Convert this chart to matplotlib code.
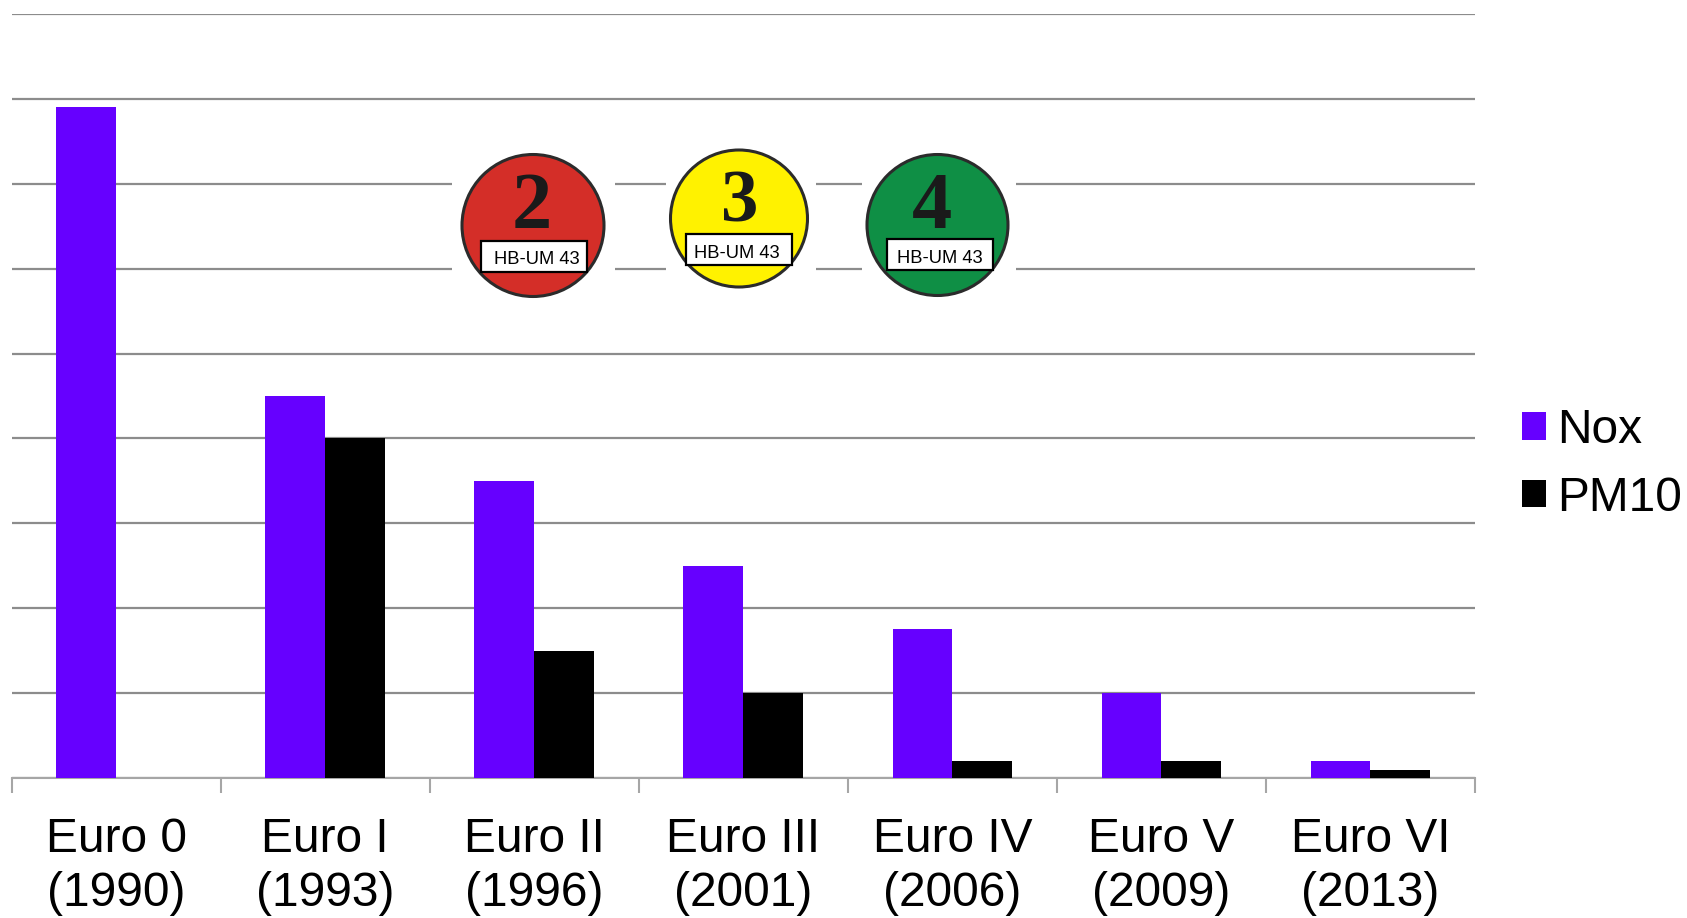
import matplotlib
matplotlib.use("Agg")
import matplotlib.pyplot as plt
from matplotlib.patches import Circle, Rectangle
import numpy as np

plt.rcParams["font.family"] = ["Liberation Sans", "DejaVu Sans"]

categories = ["Euro 0\n(1990)", "Euro I\n(1993)", "Euro II\n(1996)", "Euro III\n(2001)",
              "Euro IV\n(2006)", "Euro V\n(2009)", "Euro VI\n(2013)"]
nox = [15.8, 9, 7, 5, 3.5, 2, 0.4]
pm10 = [0, 8, 3, 2, 0.4, 0.4, 0.2]

badge_numbers = ["2", "3", "4"]
badge_plate = "HB-UM 43"

W, H = 1687, 918
purple = "#6600ff"
grid_col = "#8c8c8c"
axis_col = "#a6a6a6"

fig = plt.figure(figsize=(W / 100, H / 100), dpi=100, facecolor="white")
ax = fig.add_axes([11.5 / W, 1 - 778 / H, (1475 - 11.5) / W, (778 - 14) / H])

x = np.arange(len(categories)) + 0.5
bar_w = 0.286
ax.bar(x - bar_w / 2, nox, bar_w, color=purple, label="Nox", zorder=3)
ax.bar(x + bar_w / 2, pm10, bar_w, color="black", label="PM10", zorder=3)

ax.set_xlim(0, len(categories))
ax.set_ylim(0, 18)
ax.set_yticks(np.arange(0, 19, 2))
ax.set_yticklabels([])
ax.tick_params(axis="y", length=0)
ax.grid(axis="y", color=grid_col, lw=1.6, zorder=1)
ax.set_axisbelow(True)
for s in ["top", "left", "right"]:
    ax.spines[s].set_visible(False)
ax.spines["bottom"].set_color(axis_col)
ax.spines["bottom"].set_linewidth(1.5)

ax.set_xticks(np.arange(len(categories) + 1))
ax.set_xticklabels([])
ax.tick_params(axis="x", which="major", length=10.5, width=1.5, color=axis_col)
ax.set_xticks(x, minor=True)
ax.set_xticklabels(categories, minor=True, fontsize=34.5, linespacing=1.27)
ax.tick_params(axis="x", which="minor", length=0, pad=28)

ax.legend(loc="upper left", bbox_to_anchor=(1522 / W, 1 - 408 / H), bbox_transform=fig.transFigure,
          frameon=False, fontsize=34.5, handlelength=0.51, handleheight=0.51, handletextpad=0.22,
          labelspacing=0.47, borderpad=0, borderaxespad=0)

# pixel overlay for the pasted-in badges
top = fig.add_axes([0, 0, 1, 1], zorder=5)
top.set_xlim(0, W)
top.set_ylim(H, 0)
top.axis("off")

for x0, x1 in [(452, 615), (666, 816), (862, 1016)]:
    top.add_patch(Rectangle((x0, 170), x1 - x0, 110, color="white", lw=0, zorder=1))

badge_centers = [(533, 225.5, 71), (739, 218.5, 68.5), (937.5, 225, 70.5)]
badge_colors = ["#d42e28", "#fff200", "#0f8f45"]
digit_pos = [(532, 209, 58), (740, 204, 54), (932, 209, 58)]
plate_box = [(481, 241), (686, 234), (887.5, 239)]
plate_text = [(537, 259.5), (737, 253), (940, 258.5)]

for i, num in enumerate(badge_numbers):
    cx, cy, r = badge_centers[i]
    top.add_patch(Circle((cx, cy), r, facecolor=badge_colors[i], edgecolor="#2b2b2b", lw=2.2, zorder=2))
    dx, dy, fs = digit_pos[i]
    top.text(dx, dy, num, family="Liberation Serif", weight="bold", fontsize=fs, color="#1a1a1a",
             ha="center", va="center", zorder=3)
    bx, by = plate_box[i]
    top.add_patch(Rectangle((bx, by), 106, 31, facecolor="white", edgecolor="black", lw=1.6, zorder=4))
    tx, ty = plate_text[i]
    top.text(tx, ty, badge_plate, fontsize=13.2, color="black", ha="center", va="center", zorder=5)

fig.savefig("out.png", dpi=100)
